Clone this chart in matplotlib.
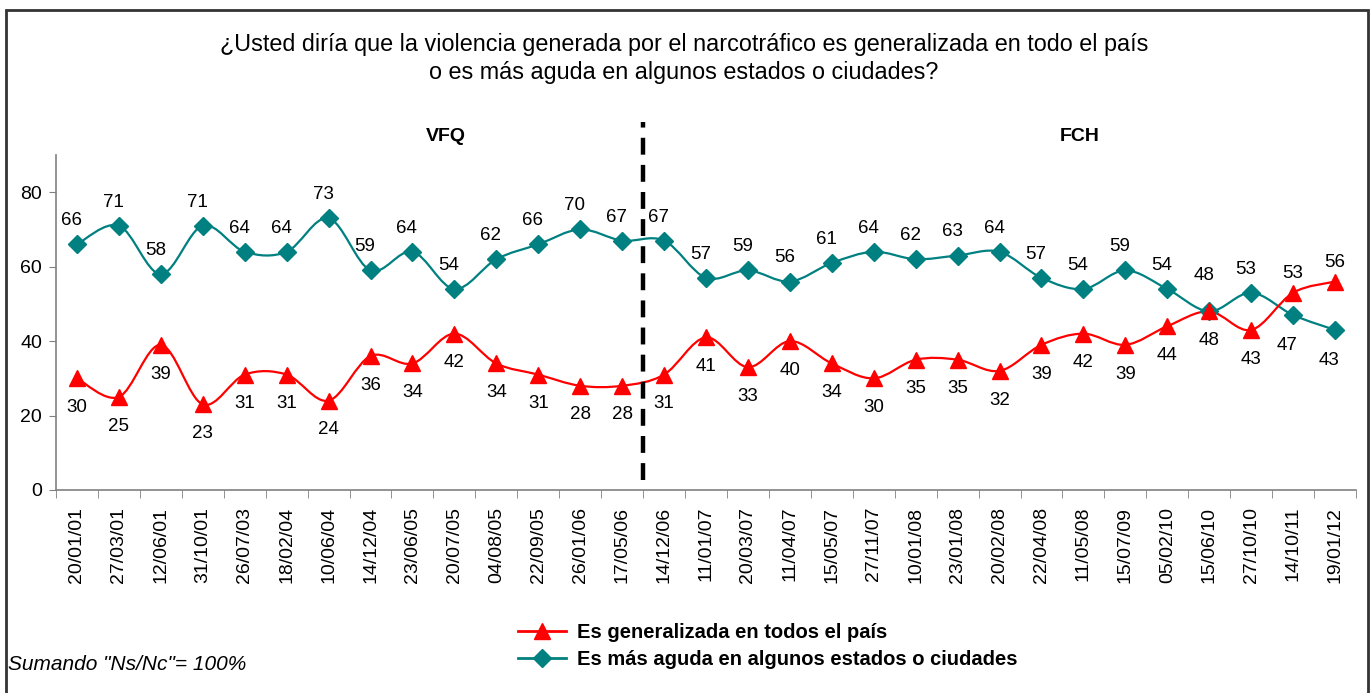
import matplotlib
matplotlib.use("Agg")
import matplotlib.pyplot as plt
import numpy as np
from matplotlib.path import Path
from matplotlib.patches import PathPatch, Rectangle
from matplotlib.lines import Line2D

plt.rcParams['font.family'] = ['Liberation Sans', 'DejaVu Sans']

dates = ["20/01/01", "27/03/01", "12/06/01", "31/10/01", "26/07/03", "18/02/04",
         "10/06/04", "14/12/04", "23/06/05", "20/07/05", "04/08/05", "22/09/05",
         "26/01/06", "17/05/06", "14/12/06", "11/01/07", "20/03/07", "11/04/07",
         "15/05/07", "27/11/07", "10/01/08", "23/01/08", "20/02/08", "22/04/08",
         "11/05/08", "15/07/09", "05/02/10", "15/06/10", "27/10/10", "14/10/11",
         "19/01/12"]
aguda = [66, 71, 58, 71, 64, 64, 73, 59, 64, 54, 62, 66, 70, 67, 67, 57, 59, 56,
         61, 64, 62, 63, 64, 57, 54, 59, 54, 48, 53, 47, 43]
general = [30, 25, 39, 23, 31, 31, 24, 36, 34, 42, 34, 31, 28, 28, 31, 41, 33, 40,
           34, 30, 35, 35, 32, 39, 42, 39, 44, 48, 43, 53, 56]
period_labels = ["VFQ", "FCH"]

RED = "#FF0000"
TEAL = "#008080"

fig = plt.figure(figsize=(13.71, 6.93), dpi=100)
ax = fig.add_axes([56/1371, 1-490/693, 1300/1371, 335/693])

x = np.arange(len(dates))


def smooth_path(xs, ys):
    pts = np.column_stack([xs, ys]).astype(float)
    n = len(pts)
    verts = [pts[0]]
    codes = [Path.MOVETO]
    for i in range(n - 1):
        p0 = pts[i - 1] if i > 0 else pts[i]
        p1 = pts[i]
        p2 = pts[i + 1]
        p3 = pts[i + 2] if i + 2 < n else pts[i + 1]
        c1 = p1 + (p2 - p0) / 6.0
        c2 = p2 - (p3 - p1) / 6.0
        verts += [c1, c2, p2]
        codes += [Path.CURVE4] * 3
    return Path(verts, codes)


for ys, col in [(aguda, TEAL), (general, RED)]:
    ax.add_patch(PathPatch(smooth_path(x, ys), fill=False, edgecolor=col, lw=1.6, zorder=3))

ax.plot(x, aguda, linestyle='none', marker='D', markersize=9, color=TEAL, zorder=4)
ax.plot(x, general, linestyle='none', marker='^', markersize=11.5, color=RED, zorder=4)

# data labels
LS = 13.5
for i in range(len(dates)):
    a, g = aguda[i], general[i]
    if a >= g:
        a_off, g_off = 17, -21
        if i == 27:
            a_off = 26
    else:
        a_off, g_off = -22, 14
    ax.annotate(str(a), (x[i], a), xytext=(-4, a_off), textcoords='offset points',
                ha='center', va='center', fontsize=LS, color='black', zorder=5)
    ax.annotate(str(g), (x[i], g), xytext=(0, g_off), textcoords='offset points',
                ha='center', va='center', fontsize=LS, color='black', zorder=5)

# dashed separator
ax.plot([13.5, 13.5], [2.7, 98.8], color='black', lw=3.2, linestyle=(0, (3.8, 2.3)),
        clip_on=False, zorder=6)

ax.text(8.8, 95.0, period_labels[0], ha='center', va='center', fontsize=14, fontweight='bold')
ax.text(23.9, 95.0, period_labels[1], ha='center', va='center', fontsize=14, fontweight='bold')

ax.set_xlim(-0.5, len(dates) - 0.5)
ax.set_ylim(0, 90)
ax.set_yticks([0, 20, 40, 60, 80])
ax.tick_params(axis='y', direction='out', length=5, color='#808080', labelsize=14, pad=5)
ax.set_xticks(x)
ax.set_xticklabels(dates, rotation=90, fontsize=14)
ax.set_xticks(np.arange(-0.5, len(dates)), minor=True)
ax.tick_params(axis='x', which='major', length=0, pad=12)
ax.tick_params(axis='x', which='minor', direction='out', length=6, color='#808080')
for s in ['top', 'right']:
    ax.spines[s].set_visible(False)
for s in ['left', 'bottom']:
    ax.spines[s].set_color('#808080')
    ax.spines[s].set_linewidth(1.2)

# title
fig.text(0.499, 1-45/693, "¿Usted diría que la violencia generada por el narcotráfico es generalizada en todo el país",
         ha='center', va='center', fontsize=16.8)
fig.text(0.499, 1-72/693, "o es más aguda en algunos estados o ciudades?",
         ha='center', va='center', fontsize=16.8)

# legend
h1 = Line2D([], [], color=RED, lw=2, marker='^', markersize=11.5)
h2 = Line2D([], [], color=TEAL, lw=2, marker='D', markersize=9)
leg = fig.legend([h1, h2], ["Es generalizada en todos el país",
                            "Es más aguda en algunos estados o ciudades"],
                 loc='center left', bbox_to_anchor=(500/1371, 1-646/693), frameon=False,
                 prop={'weight': 'bold', 'size': 14.5}, handlelength=2.4, handletextpad=0.5,
                 labelspacing=0.4)

fig.text(8/1371, 1-665/693, 'Sumando "Ns/Nc"= 100%', ha='left', va='center',
         fontsize=15, style='italic')

# outer frame
fig.add_artist(Rectangle((6/1371, -0.01), 1362/1371, 1.01 - 10/693,
                         transform=fig.transFigure, fill=False, edgecolor='#333333', lw=2))

fig.savefig("out.png", dpi=100)
